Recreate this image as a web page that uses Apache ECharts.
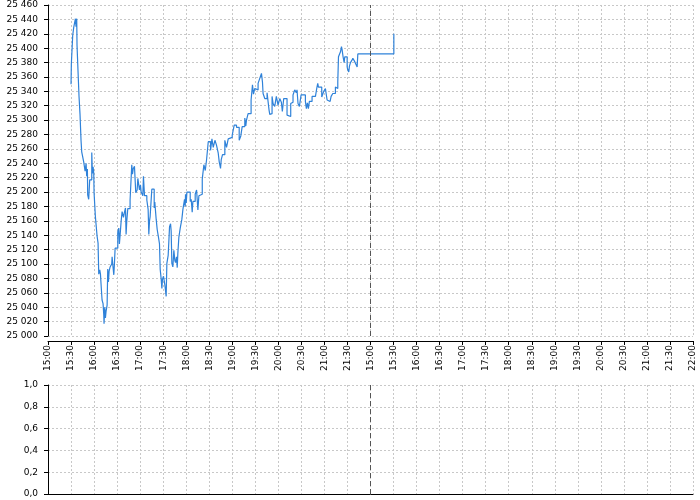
<!DOCTYPE html>
<html>
<head>
<meta charset="utf-8">
<script src="https://cdn.jsdelivr.net/npm/echarts@6/dist/echarts.min.js"></script>
<style>html,body{margin:0;padding:0;background:#fff}#c{width:700px;height:500px}</style>
</head>
<body>
<div id="c"></div>
<script>
// x tick labels (every 30 minutes, two sessions 15:00-22:00)
const tickLabels = ['15:00','15:30','16:00','16:30','17:00','17:30','18:00','18:30','19:00','19:30','20:00','20:30','21:00','21:30',
  '15:00','15:30','16:00','16:30','17:00','17:30','18:00','18:30','19:00','19:30','20:00','20:30','21:00','21:30','22:00'];
// minutes since 15:00 of first session (session axis)
const minutes = [30.0,30.4,32.2,33.5,35.7,36.5,37.4,37.8,39.1,40.4,41.7,43.0,43.9,46.5,48.3,49.6,50.4,51.3,51.7,53.0,54.3,57.0,57.8,58.7,59.6,60.0,
  61.7,63.9,65.2,66.1,67.4,68.3,69.1,70.4,71.7,72.6,73.0,73.9,74.8,75.7,77.0,77.8,78.7,79.6,80.9,83.0,83.5,84.3,85.7,86.5,87.4,90.9,92.2,93.0,93.9,
  95.2,96.5,98.3,99.6,100.9,101.7,102.6,103.9,106.9,109.1,110.0,110.9,112.6,114.3,116.1,117.0,119.1,120.4,121.3,123.5,124.3,125.7,128.7,130.4,131.3,
  132.2,133.0,135.2,138.3,139.1,140.9,142.2,143.9,145.2,146.1,147.4,148.3,149.1,150.4,152.2,153.9,154.8,156.5,158.3,159.6,160.4,161.3,162.6,163.9,
  165.2,166.1,167.4,168.3,169.1,170.4,172.2,174.3,175.7,177.8,178.7,179.1,180.0,180.9,183.5,185.2,186.5,187.8,188.7,191.7,193.5,195.2,196.5,198.3,
  200.9,203.0,204.8,206.5,208.7,
  211.7,213.5,215.2,217.4,219.5,221.7,223.0,224.7,225.6,227.3,230.3,232.5,234.7,236.8,239.9,242.5,245.5,249.0,251.1,252.9,256.3,257.6,258.5,260.6,
  264.5,266.3,267.6,269.3,271.5,273.6,275.8,278.0,279.3,280.1,282.3,285.3,287.9,288.8,289.7,291.8,293.1,295.3,297.4,299.6,301.8,303.9,305.2,307.0,
  309.6,311.3,313.9,316.1,317.8,319.1,321.3,323.4,324.3,325.6,
  327.4,329.6,335.2,336.5,337.8,339.1,340.4,343.9,348.3,350.0,351.3,352.2,356.5,357.8,359.1,361.3,362.2,363.5,365.7,367.4,368.7,370.9,374.3,376.1,
  377.4,378.3,380.9,382.2,383.0,384.3,385.7,386.5,389.6,390.4,391.7,392.6,393.9,395.7,397.0,399.1,401.3,402.6,403.5,450.4];
const prices = [25350,25378,25418,25429,25441,25430,25441,25404,25368,25333,25308,25272,25256,25242,25229,25240,25222,25232,25196,25190,25217,25255,25226,25235,25226,25199,
  25166,25139,25129,25086,25092,25086,25072,25050,25045,25030,25017,25040,25025,25035,25043,25093,25075,25090,25096,25100,25110,25100,25085,25100,25122,25145,25150,25128,25140,
  25159,25173,25165,25172,25178,25141,25160,25177,25189,25238,25225,25232,25236,25199,25203,25219,25203,25210,25200,25195,25222,25195,25189,25176,25141,
  25160,25166,25204,25178,25186,25162,25148,25137,25128,25093,25079,25066,25079,25083,25071,25055,25101,25112,25152,25156,25146,25101,25096,25119,
  25105,25102,25110,25095,25115,25137,25150,25162,25176,25190,25180,25197,25185,25200,25200,25187,25190,25172,25187,25197,25203,25175,25195,25197,
  25218,25238,25230,25245,25270,
  25258,25274,25262,25272,25265,25254,25242,25233,25245,25252,25272,25262,25274,25276,25279,25293,25290,25272,25278,25291,25303,25292,25300,25309,
  25328,25349,25336,25344,25342,25351,25358,25365,25353,25337,25330,25338,25314,25308,25309,25333,25323,25319,25333,25321,25330,25325,25312,25330,
  25330,25307,25305,25323,25325,25335,25342,25338,25342,25323,
  25319,25335,25326,25316,25324,25316,25326,25333,25331,25344,25351,25346,25332,25330,25340,25344,25337,25328,25326,25324,25333,25337,25346,25344,
  25353,25388,25395,25402,25398,25388,25380,25388,25374,25370,25367,25375,25380,25383,25386,25382,25377,25374,25392,25420];
const sessionBreak = 420;

const FONT = 'DejaVu Sans';
const gridLine = {show: true, lineStyle: {color: '#c8c8c8', type: [2, 2], width: 1}};
const priceFmt = v => String(v).replace(/\B(?=(\d{3})+(?!\d))/g, ' ');
const xFmt = v => tickLabels[Math.round(v / 30)] || '';
const breakLine = {
  silent: true, symbol: 'none', label: {show: false},
  lineStyle: {color: '#555', type: [5, 3], width: 1},
  data: [{xAxis: sessionBreak}]
};

const chart = echarts.init(document.getElementById('c'), null, {renderer: 'canvas'});
chart.setOption({
  animation: false,
  backgroundColor: '#fff',
  grid: [
    {left: 48, right: 7, top: 5, height: 331},
    {left: 48, right: 7, top: 385, height: 109}
  ],
  xAxis: [
    {type: 'value', gridIndex: 0, min: 0, max: 840, interval: 30, offset: 5,
      axisLine: {show: true, onZero: false, lineStyle: {color: '#000'}},
      axisTick: {show: true, length: 4, lineStyle: {color: '#000'}},
      axisLabel: {rotate: 90, margin: 4, color: '#000', fontFamily: FONT, fontSize: 9, formatter: xFmt},
      splitLine: gridLine},
    {type: 'value', gridIndex: 1, min: 0, max: 840, interval: 30,
      axisLine: {show: true, onZero: false, lineStyle: {color: '#000'}},
      axisTick: {show: false}, axisLabel: {show: false},
      splitLine: gridLine}
  ],
  yAxis: [
    {type: 'value', gridIndex: 0, min: 25000, max: 25460, interval: 20, offset: 5,
      axisLine: {show: true, lineStyle: {color: '#000'}},
      axisTick: {show: true, length: 4, lineStyle: {color: '#000'}},
      axisLabel: {margin: 5, color: '#000', fontFamily: FONT, fontSize: 9, formatter: priceFmt},
      splitLine: gridLine},
    {type: 'value', gridIndex: 1, min: 0, max: 1, interval: 0.2, offset: 5,
      axisLine: {show: true, lineStyle: {color: '#000'}},
      axisTick: {show: true, length: 4, lineStyle: {color: '#000'}},
      axisLabel: {margin: 5, color: '#000', fontFamily: FONT, fontSize: 9,
        formatter: v => v.toFixed(1).replace('.', ',')},
      splitLine: gridLine}
  ],
  series: [
    {type: 'line', xAxisIndex: 0, yAxisIndex: 0, step: 'end', showSymbol: false,
      lineStyle: {color: '#2f82d9', width: 1.2}, itemStyle: {color: '#2f82d9'},
      data: minutes.map((m, i) => [m, prices[i]]),
      markLine: breakLine},
    {type: 'line', xAxisIndex: 1, yAxisIndex: 1, showSymbol: false, data: [],
      markLine: breakLine}
  ]
});
</script>
</body>
</html>
